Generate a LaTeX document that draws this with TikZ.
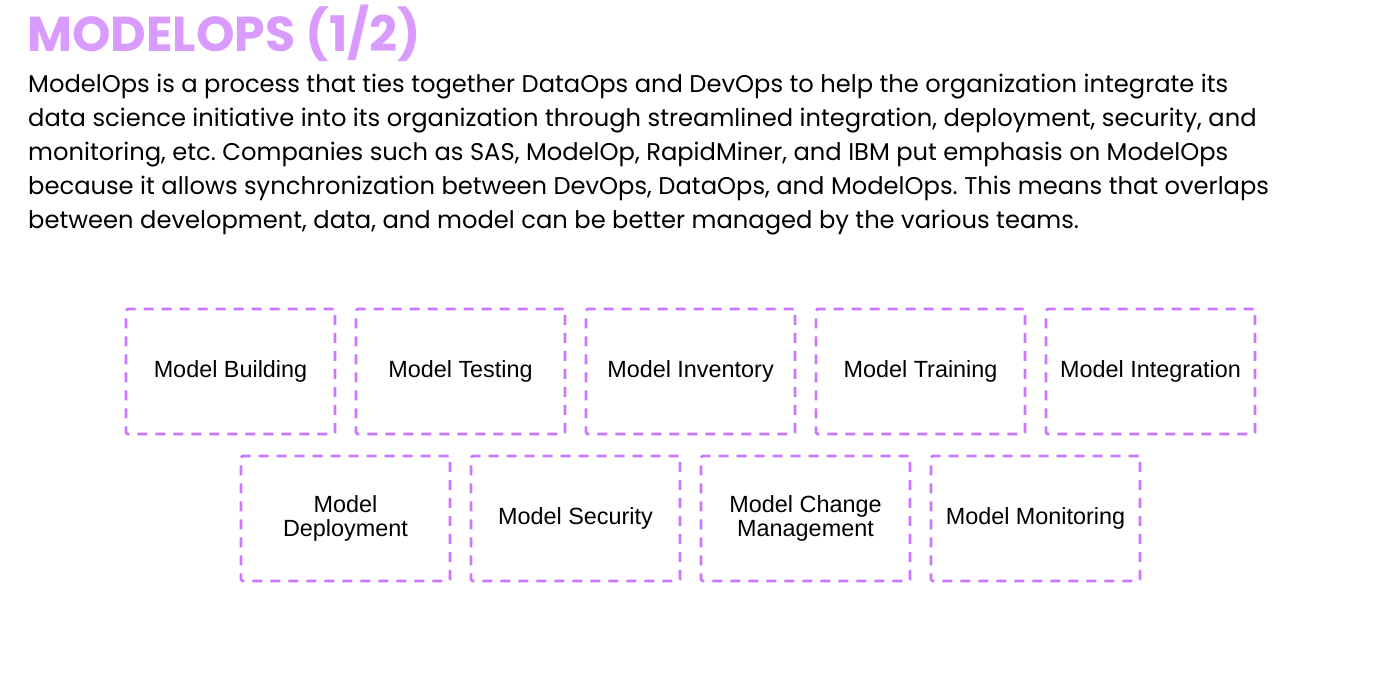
\documentclass[tikz,border=0pt]{standalone}
\usepackage{fontspec}
\setmainfont{Poppins}
\newfontfamily\titlefont{Poppins}
\newfontfamily\boxfont{Liberation Sans}
\usetikzlibrary{positioning}
\definecolor{boxpurple}{RGB}{200,120,255}
\definecolor{titlepurple}{RGB}{218,155,255}
\frenchspacing

\begin{document}
\begin{tikzpicture}[x=1pt,y=-1pt,node distance=230pt,on grid,
    modelbox/.style={draw=boxpurple, line width=2.6pt, dash pattern=on 10pt off 8pt,
        rounded corners=1.5pt, minimum width=209pt, minimum height=125pt,
        align=center, font=\boxfont\fontsize{23.4}{24}\selectfont, inner sep=2pt}]
    \useasboundingbox (0,0) rectangle (1382,696);

    % heading and intro text
    \node[anchor=base west, inner sep=0pt, text=titlepurple] (title) at (27,51)
        {\titlefont\bfseries\fontsize{49}{50}\selectfont MODELOPS (1/2)};
    \node[anchor=north west, inner sep=0pt, align=left,
        font=\fontsize{24.2}{34}\selectfont] (intro) at (28,73.5)
        {ModelOps is a process that ties together DataOps and DevOps to help the organization integrate its\\
         data science initiative into its organization through streamlined integration, deployment, security, and\\
         monitoring, etc. Companies such as SAS, ModelOp, RapidMiner, and IBM put emphasis on ModelOps\\
         because it allows synchronization between DevOps, DataOps, and ModelOps. This means that overlaps\\
         between development, data, and model can be better managed by the various teams.};

    % first row
    \node[modelbox] (build) at (230.5,371.5) {Model Building};
    \node[modelbox] (test) [right=of build] {Model Testing};
    \node[modelbox] (inv) [right=of test] {Model Inventory};
    \node[modelbox] (train) [right=of inv] {Model Training};
    \node[modelbox] (integ) [right=of train] {Model Integration};

    % second row
    \node[modelbox] (deploy) [below right=147pt and 115pt of build] {Model\\Deployment};
    \node[modelbox] (sec) [right=of deploy] {Model Security};
    \node[modelbox] (change) [right=of sec] {Model Change\\Management};
    \node[modelbox] (monit) [right=of change] {Model Monitoring};
\end{tikzpicture}
\end{document}
